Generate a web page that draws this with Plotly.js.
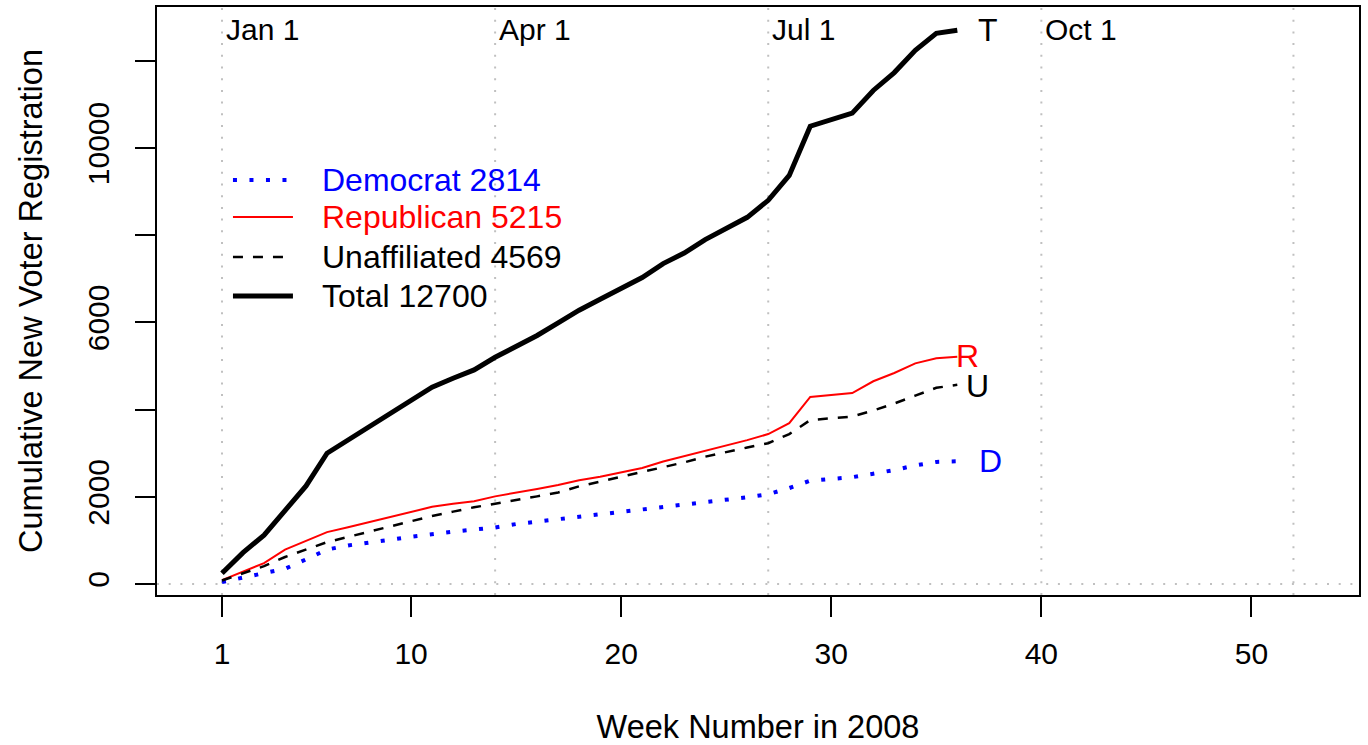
<!DOCTYPE html>
<html>
<head>
<meta charset="utf-8">
<script src="https://cdn.plot.ly/plotly-3.0.1.min.js"></script>
<style>html,body{margin:0;padding:0;background:#fff;}#chart{width:1368px;height:745px;}</style>
</head>
<body>
<div id="chart"></div>
<script>
const weeks = [1,2,3,4,5,6,7,8,9,10,11,12,13,14,15,16,17,18,19,20,21,22,23,24,25,26,27,28,29,30,31,32,33,34,35,36];
const democrat = [46,150,250,350,565,790,885,940,1016,1084,1150,1200,1248,1296,1375,1430,1495,1550,1605,1643,1700,1765,1815,1880,1940,1990,2060,2200,2370,2410,2450,2530,2613,2720,2800,2814];
const republican = [90,290,480,790,990,1190,1300,1420,1530,1650,1770,1840,1900,2010,2090,2180,2270,2380,2460,2560,2660,2810,2930,3060,3180,3300,3440,3690,4290,4330,4380,4650,4840,5060,5180,5215];
const unaffiliated = [80,250,410,620,790,960,1080,1200,1320,1440,1560,1660,1760,1840,1920,2010,2100,2240,2350,2460,2560,2680,2790,2920,3030,3130,3230,3440,3760,3800,3840,3980,4140,4320,4500,4569];
const total = [245,720,1120,1680,2250,3000,3300,3600,3910,4210,4515,4720,4910,5200,5450,5700,5990,6280,6530,6780,7030,7350,7590,7900,8160,8410,8800,9370,10500,10650,10800,11320,11730,12240,12630,12700];

const seriesNames = ["Democrat 2814","Republican 5215","Unaffiliated 4569","Total 12700"];
const endLabels = ["D","R","U","T"];
const monthWeeks = [1,14,27,40];
const monthLabels = ["Jan 1","Apr 1","Jul 1","Oct 1"];
const gridWeeks = [1,14,27,40,52];
const xTickVals = [1,10,20,30,40,50];
const yTickVals = [0,2000,4000,6000,8000,10000,12000];
const yTickText = ["0","2000","","6000","","10000",""];

const series = [democrat, republican, unaffiliated, total];
const styles = [
  {color:"#0000ff", width:4, dash:"4px,12.5px"},
  {color:"#ff0000", width:2, dash:"solid"},
  {color:"#000000", width:2.5, dash:"10px,10px"},
  {color:"#000000", width:5, dash:"solid"}
];
const labelShift = [21, -2, 8, 20];
const labelYShift = [0, 1, -1, 0];
const labelColor = ["#0000ff","#ff0000","#000000","#000000"];

const FONT = "Liberation Sans, Arial, Helvetica, sans-serif";

const traces = series.map((s,i)=>({
  x: weeks, y: s, type:"scatter", mode:"lines", name: seriesNames[i],
  line:{color:styles[i].color, width:styles[i].width, dash:styles[i].dash},
  showlegend:false, hoverinfo:"x+y"
}));

const shapes = [];
gridWeeks.forEach(w=>{
  shapes.push({type:"line", xref:"x", yref:"paper", x0:w, x1:w, y0:0, y1:1,
    line:{color:"#c0c0c0", width:2, dash:"2px,9.7px"}, layer:"below"});
});
shapes.push({type:"line", xref:"paper", yref:"y", x0:0, x1:1, y0:0, y1:0,
  line:{color:"#c0c0c0", width:2, dash:"2px,9.7px"}, layer:"below"});

const legY = [0.7058, 0.6429, 0.5748, 0.5085];
const annotations = [];
seriesNames.forEach((n,i)=>{
  shapes.push({type:"line", xref:"paper", yref:"paper", x0:0.0632, x1:0.1131, y0:legY[i], y1:legY[i],
    line:{color:styles[i].color, width:styles[i].width, dash:styles[i].dash}});
  annotations.push({xref:"paper", yref:"paper", x:0.1356, y:legY[i], xanchor:"left", yanchor:"middle",
    text:n, showarrow:false, font:{family:FONT, size:32, color:labelColor[i]}});
});

monthWeeks.forEach((w,i)=>{
  annotations.push({xref:"x", yref:"paper", x:w, y:1, xanchor:"left", yanchor:"top", yshift:-4, xshift:2,
    text:monthLabels[i], showarrow:false, font:{family:FONT, size:30, color:"#000"}});
});

series.forEach((s,i)=>{
  const last = s.length-1;
  annotations.push({xref:"x", yref:"y", x:weeks[last], y:s[last], xanchor:"left", yanchor:"middle",
    xshift:labelShift[i], yshift:labelYShift[i], text:endLabels[i], showarrow:false, borderpad:0,
    font:{family:FONT, size:32, color:labelColor[i]}});
});

const layout = {
  width:1368, height:745,
  margin:{l:157, r:9, t:7, b:150},
  paper_bgcolor:"#fff", plot_bgcolor:"#fff",
  font:{family:FONT, size:30, color:"#000"},
  showlegend:false,
  xaxis:{
    range:[-2.094, 55.12], tickmode:"array", tickvals:xTickVals,
    ticks:"outside", ticklen:20, tickwidth:2, tickcolor:"#000", ticklabelstandoff:11,
    showgrid:false, zeroline:false, showline:true, mirror:true, linecolor:"#000", linewidth:2,
    tickfont:{family:FONT, size:30, color:"#000"},
    title:{text:"Week Number in 2008", font:{family:FONT, size:32.5, color:"#000"}, standoff:54}
  },
  yaxis:{
    range:[-252, 13234], tickmode:"array", tickvals:yTickVals, ticktext:yTickText,
    ticks:"outside", ticklen:20, tickwidth:2, tickcolor:"#000", tickangle:-90, ticklabelstandoff:14,
    showgrid:false, zeroline:false, showline:true, mirror:true, linecolor:"#000", linewidth:2,
    tickfont:{family:FONT, size:30, color:"#000"},
    title:{text:"Cumulative New Voter Registration", font:{family:FONT, size:32.5, color:"#000"}, standoff:30}
  },
  shapes: shapes,
  annotations: annotations
};

Plotly.newPlot("chart", traces, layout, {staticPlot:true, displayModeBar:false});
</script>
</body>
</html>
